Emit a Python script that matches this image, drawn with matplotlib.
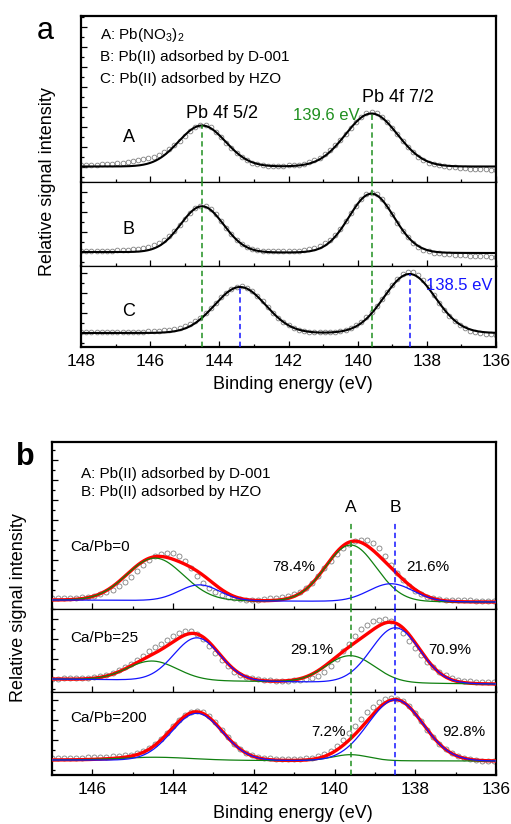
import numpy as np
import matplotlib.pyplot as plt
from matplotlib.ticker import MultipleLocator

plt.rcParams['font.family'] = ['Liberation Sans', 'DejaVu Sans']
plt.rcParams['mathtext.fontset'] = 'custom'
plt.rcParams['mathtext.rm'] = 'Liberation Sans'

# ---------------- panel a : measured points (height above background) ----------------
energy_a = np.arange(148, 135.99, -0.15)
signal_a_A = [1.5, 1.5, 2, 2, 2.5, 2.5, 3, 3.5, 4, 4.8,
              5.5, 6.5, 7.3, 8.5, 9.9, 11.6, 14.1, 17.4, 21.6, 26,
              31, 36, 40, 42, 42, 39.5, 35, 30, 24, 18.5,
              13.5, 9.5, 6.5, 4, 2.5, 1.5, 1, 0.8, 0.8, 1,
              1.3, 1.6, 2, 3, 4.5, 6.5, 9, 12.5, 16.5, 21.5,
              27, 33, 39, 45, 50, 53.5, 55, 54, 50, 45,
              39, 32.5, 26, 20, 14.5, 10, 6.5, 4, 2.3, 1.2,
              0.3, -0.3, -0.8, -1.2, -1.6, -2, -2.3, -2.6, -2.9, -3.1,
              -3.3]
signal_a_B = [1, 1, 1, 1, 1.2, 1.3, 1.5, 1.8, 2, 2.3,
              2.8, 3.5, 4.5, 5.5, 7, 9, 12, 16, 21, 27,
              33.5, 39.5, 44, 46.5, 46.5, 43, 38, 31.5, 24.5, 18,
              12.5, 8.5, 5.5, 3.5, 2.2, 1.5, 1.2, 1, 1, 1,
              1.2, 1.4, 1.8, 2.4, 3.3, 4.6, 6.5, 9.3, 13, 18,
              24, 31.5, 39.5, 47, 54, 58.5, 60, 58.5, 53.5, 46.5,
              38.5, 30, 22, 15.5, 10, 6, 3.3, 1.5, 0.3, -0.4,
              -0.9, -1.3, -1.7, -2, -2.3, -2.6, -2.9, -3.2, -3.5, -3.8,
              -4]
signal_a_C = [1.3, 1.3, 1.3, 1.3, 1.3, 1.3, 1.2, 1.2, 1.2, 1.2,
              1.2, 1.3, 1.4, 1.6, 1.8, 2.1, 2.6, 3.2, 4, 5,
              6.6, 8.8, 11.8, 15.5, 20, 25, 30.5, 35.8, 40.5, 44.2,
              46.5, 47, 45.5, 42, 37.3, 31.8, 26, 20.4, 15.3, 11,
              7.6, 5, 3.2, 2, 1.2, 0.8, 0.6, 0.6, 0.8, 1.2,
              2, 3.2, 5, 7.6, 11.2, 15.8, 21, 27.5, 34.5, 41.5,
              48.5, 54.5, 59, 61.2, 61.3, 58.5, 53, 46, 38.3, 30.5,
              23.3, 17, 11.8, 7.8, 4.6, 2.4, 0.9, -0.1, -0.8, -1.3,
              -1.7]

# fitted Pb 4f peaks: centre (eV), height, gaussian width
centers_a_A = [144.5, 139.6]
heights_a_A = [41, 53]
widths_a_A = [0.68, 0.75]
centers_a_B = [144.5, 139.6]
heights_a_B = [46, 59]
widths_a_B = [0.62, 0.65]
centers_a_C = [143.4, 138.5]
heights_a_C = [46, 59]
widths_a_C = [0.74, 0.74]
background_a = [(0, 0), (0, -1), (0, 0)]

# ---------------- panel b ----------------
energy_b = np.arange(147, 136.0, -0.15)
signal_b_0 = [1.7, 1.8, 2, 2.2, 2.5, 2.9, 3.5, 4.5, 6, 8,
              10.5, 14, 18.5, 23.5, 29, 35, 40, 44, 46.5, 47.5,
              47.3, 45, 40, 33, 25, 18, 12.5, 8.5, 6, 4,
              2.5, 1.8, 1.3, 1, 1, 1.5, 2.5, 3.5, 4.5, 5.5,
              7.5, 9.5, 13, 18, 25.5, 33, 40, 47, 53, 57.5,
              60, 61.5, 61, 58.5, 53, 45.5, 37, 29, 22, 15.5,
              11, 7.5, 5, 3.5, 2.5, 2, 2, 2, 1.7, 1.5,
              1.3, 1.1, 1, 1]
signal_b_25 = [0.5, 0.5, 0.7, 0.8, 1, 1.3, 1.8, 2.5, 3.5, 5,
               7, 9.5, 12.5, 16, 20, 24.5, 29, 33, 36, 40.5,
               44, 47.5, 49.5, 49.5, 47, 41.5, 35, 28, 21, 14.5,
               9.5, 6, 4, 2.8, 2, 1.3, 1, 0.8, 0.8, 1,
               1.3, 1.8, 2.5, 3.8, 6, 10, 16, 23, 31, 38.5,
               46, 53, 58, 61.5, 63, 63.5, 62, 57, 50, 42,
               35, 28, 21.5, 16, 11.5, 8, 5.5, 4, 3, 2.5,
               2.2, 2, 1.8, 1.7]
signal_b_200 = [2, 2, 2, 2, 2.2, 2.5, 2.8, 3, 3.2, 3.5,
                3.8, 4.2, 4.8, 5.5, 6.8, 8.8, 12, 16, 21.5, 27.5,
                34, 40, 45, 48.5, 49.5, 48.5, 44.5, 38, 30.5, 23,
                16.5, 11, 7.5, 5, 3.3, 2.5, 2, 1.8, 1.7, 1.7,
                1.8, 2, 2.3, 3, 4.3, 6.5, 10, 15, 21, 28,
                35, 42, 48.5, 54, 58.5, 61.5, 62.5, 62, 59.5, 54.5,
                47.5, 39.5, 31, 23.5, 17, 11.8, 7.8, 4.8, 2.8, 1.6,
                0.8, 0.4, 0.2, 0.1]

# fitted components: A = Pb(II) on D-001 (green), B = Pb(II) on HZO (blue)
centers_b_green = [[144.45, 139.6], [144.52, 139.61], [144.45, 139.6]]
heights_b_green = [[42.4, 56.3], [19.1, 26.7], [3, 6]]
widths_b_green = [[0.7, 0.63], [0.62, 0.6], [0.9, 0.45]]
centers_b_blue = [[143.35, 138.6], [143.41, 138.49], [143.41, 138.49]]
heights_b_blue = [[15.8, 17.8], [42.8, 55.1], [47, 61]]
widths_b_blue = [[0.5, 0.55], [0.57, 0.6], [0.63, 0.68]]
background_b = [(0, -2), (0, -5), (0, -1)]
ratio_labels = ['Ca/Pb=0', 'Ca/Pb=25', 'Ca/Pb=200']
share_A = ['78.4%', '29.1%', '7.2%']
share_B = ['21.6%', '70.9%', '92.8%']

GREEN = '#1f8f1f'
COMP_GREEN = '#108010'
BLUE = '#1414ff'
W, H = 511, 824

fig = plt.figure(figsize=(W / 100, H / 100), dpi=100)


def add_ax(left, top, right, bottom):
    return fig.add_axes([left / W, 1 - bottom / H, (right - left) / W, (bottom - top) / H])


def gauss(x, centers, heights, widths):
    x = np.asarray(x, dtype=float)
    y = np.zeros_like(x)
    for c, h, s in zip(centers, heights, widths):
        y = y + h * np.exp(-(x - c) ** 2 / (2 * s ** 2))
    return y


def bg_line(x, bg, xlim):
    x = np.asarray(x, dtype=float)
    return bg[0] + (bg[1] - bg[0]) * (xlim[0] - x) / (xlim[0] - xlim[1])


def frame(ax, xlim, ylim, where):
    ax.set_xlim(xlim)
    ax.set_ylim(ylim)
    ax.xaxis.set_major_locator(MultipleLocator(2))
    ax.xaxis.set_minor_locator(MultipleLocator(1))
    ax.yaxis.set_major_locator(MultipleLocator(20))
    ax.yaxis.set_minor_locator(MultipleLocator(10))
    ax.tick_params(which='both', direction='in', top=False, right=False,
                   labelleft=False, labelbottom=(where == 'bottom'),
                   width=0.9, labelsize=12.5, pad=5)
    ax.tick_params(which='major', length=4.2)
    ax.tick_params(which='minor', length=2.4)
    ax.spines['left'].set_linewidth(1.6)
    ax.spines['right'].set_linewidth(1.6)
    ax.spines['top'].set_linewidth(1.6 if where == 'top' else 0.9)
    ax.spines['bottom'].set_linewidth(1.6 if where == 'bottom' else 0.9)


dash = (0, (3.5, 2.3))

# ================= panel a =================
xlim_a = (148, 136)
boxes_a = [(81, 16, 496, 182), (81, 182, 496, 266), (81, 266, 496, 347)]
ylims_a = [(-15.5, 150.5), (-14, 70), (-14, 67)]
signals_a = [signal_a_A, signal_a_B, signal_a_C]
centers_a = [centers_a_A, centers_a_B, centers_a_C]
heights_a = [heights_a_A, heights_a_B, heights_a_C]
widths_a = [widths_a_A, widths_a_B, widths_a_C]
where = ['top', 'mid', 'bottom']
x_fit_a = np.linspace(148, 136, 900)

axes_a = []
for k in range(3):
    ax = add_ax(*boxes_a[k])
    frame(ax, xlim_a, ylims_a[k], where[k])
    ax.plot(energy_a, bg_line(energy_a, background_a[k], xlim_a) + np.array(signals_a[k]), 'o',
            mfc='none', mec='#808080', ms=3.4, mew=0.6, zorder=2)
    ax.plot(x_fit_a, bg_line(x_fit_a, background_a[k], xlim_a) + gauss(x_fit_a, centers_a[k], heights_a[k], widths_a[k]),
            color='black', lw=1.5, zorder=3)
    axes_a.append(ax)

# reference lines: D-001 (green) and HZO (blue) peak positions
axA, axB, axC = axes_a
peak_tops_A = bg_line(centers_a_A, background_a[0], xlim_a) + gauss(centers_a_A, centers_a_A, heights_a_A, widths_a_A)
axA.vlines(centers_a_A, ylims_a[0][0], peak_tops_A, colors=GREEN, linestyles=dash, lw=1.1, zorder=4)
for c in centers_a_A:
    axB.axvline(c, color=GREEN, ls=dash, lw=1.1, zorder=4)
    axC.axvline(c, color=GREEN, ls=dash, lw=1.1, zorder=4)
peak_tops_C = bg_line(centers_a_C, background_a[2], xlim_a) + gauss(centers_a_C, centers_a_C, heights_a_C, widths_a_C)
axC.vlines(centers_a_C, ylims_a[2][0], peak_tops_C, colors=BLUE, linestyles=dash, lw=1.1, zorder=4)

fig.text(45 / W, 1 - 31 / H, 'a', fontsize=22, ha='center', va='center')
fig.text(100 / W, 1 - 38.8 / H, r'A: Pb(NO$_\mathregular{3}$)$_\mathregular{2}$', fontsize=11, va='baseline')
fig.text(100 / W, 1 - 60.8 / H, 'B: Pb(II) adsorbed by D-001', fontsize=11, va='baseline')
fig.text(100 / W, 1 - 82.5 / H, 'C: Pb(II) adsorbed by HZO', fontsize=11, va='baseline')
fig.text(222 / W, 1 - 114 / H, 'Pb 4f 5/2', fontsize=13, ha='center', va='center')
fig.text(398 / W, 1 - 97.5 / H, 'Pb 4f 7/2', fontsize=13, ha='center', va='center')
fig.text(326 / W, 1 - 115 / H, '139.6 eV', fontsize=12, color=GREEN, ha='center', va='center')
fig.text(459 / W, 1 - 285 / H, '138.5 eV', fontsize=12, color=BLUE, ha='center', va='center')
for lab, yy in zip(['A', 'B', 'C'], [138, 229.5, 311.5]):
    fig.text(129 / W, 1 - yy / H, lab, fontsize=13, ha='center', va='center')
fig.text(48 / W, 1 - 182 / H, 'Relative signal intensity', fontsize=13, rotation=90, ha='center', va='center')
fig.text(293 / W, 1 - 385 / H, 'Binding energy (eV)', fontsize=13, ha='center', va='center')

# ================= panel b =================
xlim_b = (147, 136)
boxes_b = [(52, 442, 496, 609), (52, 609, 496, 692), (52, 692, 496, 775)]
ylims_b = [(-9, 158), (-13, 70), (-15, 68)]
signals_b = [signal_b_0, signal_b_25, signal_b_200]
x_fit_b = np.linspace(147, 136, 900)
ref_A = centers_a_B[1]
ref_B = centers_a_C[1]
dash_top_b = 78

for k in range(3):
    ax = add_ax(*boxes_b[k])
    frame(ax, xlim_b, ylims_b[k], where[k])
    base = bg_line(x_fit_b, background_b[k], xlim_b)
    green = base + gauss(x_fit_b, centers_b_green[k], heights_b_green[k], widths_b_green[k])
    blue = base + gauss(x_fit_b, centers_b_blue[k], heights_b_blue[k], widths_b_blue[k])
    red = green + blue - base
    ax.plot(energy_b, bg_line(energy_b, background_b[k], xlim_b) + np.array(signals_b[k]), 'o',
            mfc='none', mec='#808080', ms=3.6, mew=0.6, zorder=2)
    ax.plot(x_fit_b, red, color='#ff0000', lw=2.4, zorder=3)
    ax.plot(x_fit_b, green, color=COMP_GREEN, lw=0.9, zorder=4)
    ax.plot(x_fit_b, blue, color=BLUE, lw=0.9, zorder=4)
    if k == 0:
        ax.vlines([ref_A], ylims_b[0][0], dash_top_b, colors=GREEN, linestyles=dash, lw=1.1, zorder=5)
        ax.vlines([ref_B], ylims_b[0][0], dash_top_b, colors=BLUE, linestyles=dash, lw=1.1, zorder=5)
    else:
        ax.axvline(ref_A, color=GREEN, ls=dash, lw=1.1, zorder=5)
        ax.axvline(ref_B, color=BLUE, ls=dash, lw=1.1, zorder=5)

fig.text(25 / W, 1 - 457 / H, 'b', fontsize=22, fontweight='bold', ha='center', va='center')
fig.text(81 / W, 1 - 477.8 / H, 'A: Pb(II) adsorbed by D-001', fontsize=11, va='baseline')
fig.text(81 / W, 1 - 496 / H, 'B: Pb(II) adsorbed by HZO', fontsize=11, va='baseline')
fig.text(351 / W, 1 - 508 / H, 'A', fontsize=12.5, ha='center', va='center')
fig.text(395 / W, 1 - 508 / H, 'B', fontsize=12.5, ha='center', va='center')
for lab, yy in zip(ratio_labels, [547, 638.3, 718]):
    fig.text(70 / W, 1 - yy / H, lab, fontsize=11, va='center')
for lab, xx, yy in zip(share_A, [294, 312, 328.7], [566.7, 650, 732.3]):
    fig.text(xx / W, 1 - yy / H, lab, fontsize=11, ha='center', va='center')
for lab, xx, yy in zip(share_B, [428, 450, 463.7], [566.7, 650, 732.3]):
    fig.text(xx / W, 1 - yy / H, lab, fontsize=11, ha='center', va='center')
fig.text(19 / W, 1 - 608 / H, 'Relative signal intensity', fontsize=13, rotation=90, ha='center', va='center')
fig.text(293 / W, 1 - 813 / H, 'Binding energy (eV)', fontsize=13, ha='center', va='center')

fig.savefig('out.png', dpi=100)
